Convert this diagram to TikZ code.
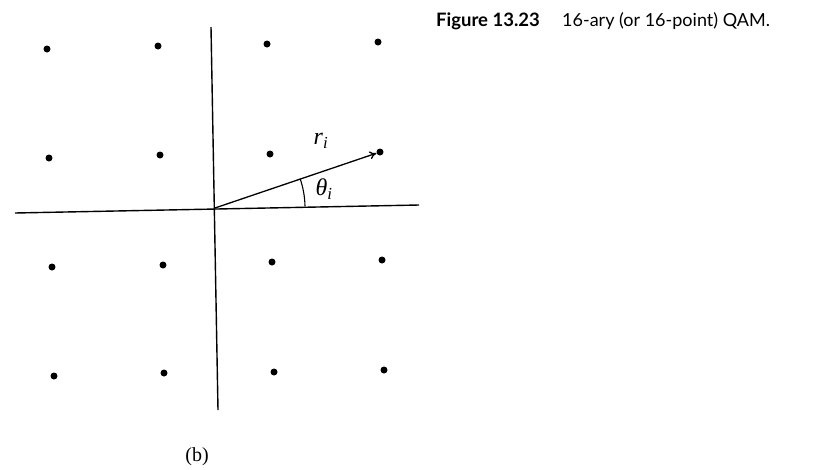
\documentclass[tikz,border=0pt]{standalone}
\usepackage{fontspec}
\newfontfamily\capfont{Lato}
\newfontfamily\lblfont{Liberation Serif}
\usetikzlibrary{arrows.meta,calc}
\begin{document}
\begin{tikzpicture}[x=1pt,y=-1pt,
  pt/.style={circle,fill=black,inner sep=0pt,minimum size=7pt},
  axis/.style={line width=1.4pt},
  lbl/.style={font=\lblfont\itshape\fontsize{24}{26}\selectfont,inner sep=0pt}]
\useasboundingbox (0,0) rectangle (836,469);
% axes
\coordinate (vt) at (211,27);
\coordinate (vb) at (218,410);
\coordinate (hl) at (15,213);
\coordinate (hr) at (419,205);
\coordinate (o) at (215,208);
\draw[axis] (vt) -- (vb);
\draw[axis] (hl) -- (hr);
% points
\node[pt] (p11) at (47,49) {};
\node[pt] (p12) at (158,46) {};
\node[pt] (p13) at (267,44) {};
\node[pt] (p14) at (378,42) {};
\node[pt] (p21) at (49,158) {};
\node[pt] (p22) at (160,155) {};
\node[pt] (p23) at (270,154) {};
\node[pt] (p24) at (380,152) {};
\node[pt] (p31) at (52,267) {};
\node[pt] (p32) at (163,265) {};
\node[pt] (p33) at (272,262) {};
\node[pt] (p34) at (382,260) {};
\node[pt] (p41) at (54,376) {};
\node[pt] (p42) at (164,373) {};
\node[pt] (p43) at (274,372) {};
\node[pt] (p44) at (384,370) {};
% vector
\draw[line width=1.3pt,-{To[length=7pt,width=8pt]}] (o) -- (p24);
\draw[line width=1.1pt] ($(o)+(90,-1.6)$) arc[start angle=-1, end angle=-19, radius=90];
\node[lbl] (r) at (321,141) {r\textsubscript{i}};
\node[lbl] (th) at (324,189) {θ\textsubscript{i}};
% labels
\node[font=\lblfont\fontsize{20}{22}\selectfont,anchor=center] (b) at (197,457) {(b)};
\node[anchor=base west,inner sep=0pt,font=\capfont\fontsize{18.5}{22}\selectfont] (fig) at (436,26) {\textbf{Figure 13.23}};
\node[anchor=base west,inner sep=0pt,font=\capfont\fontsize{18}{22}\selectfont] (cap) at (562,26) {16-ary (or 16-point) QAM.};
\end{tikzpicture}
\end{document}
